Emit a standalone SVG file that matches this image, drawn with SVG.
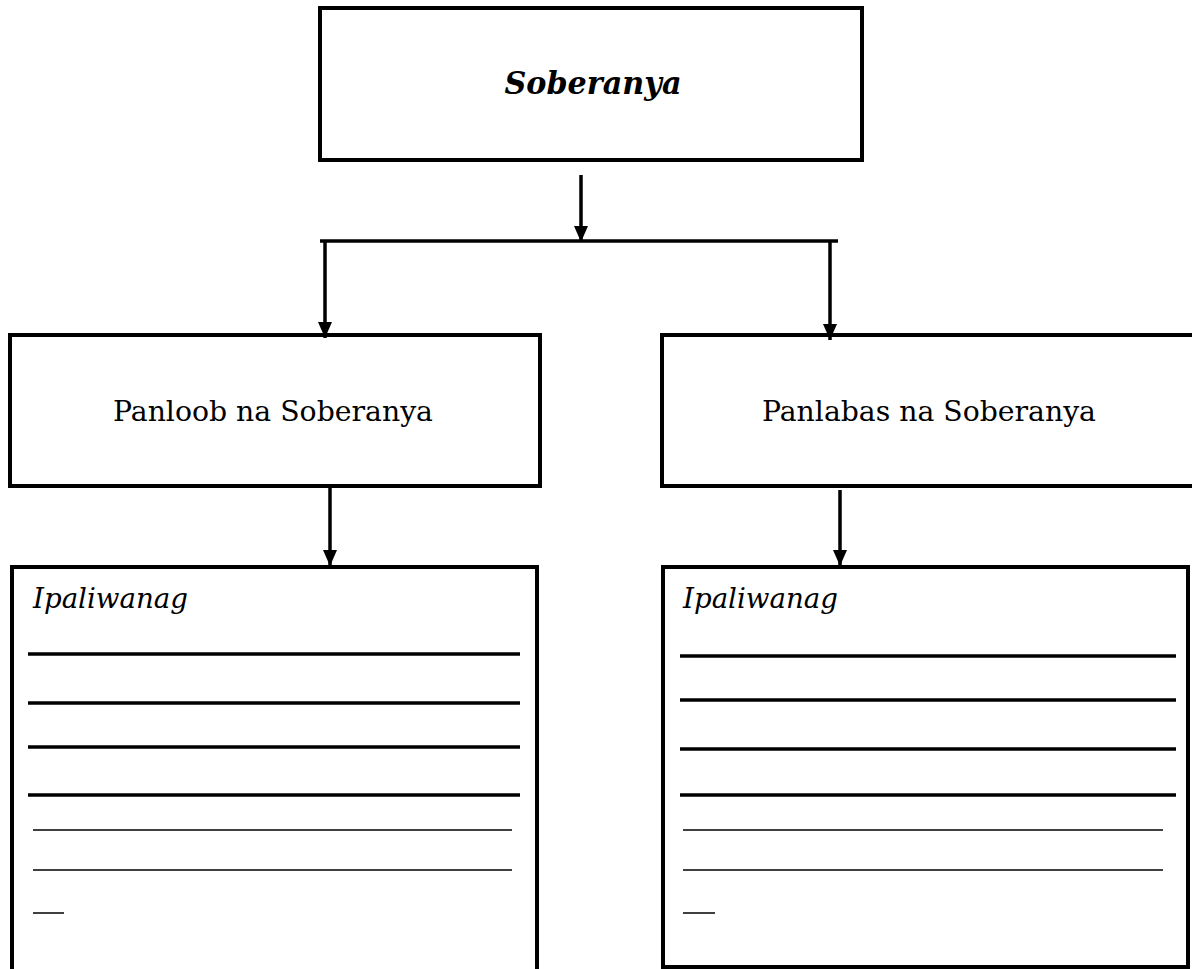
<svg xmlns="http://www.w3.org/2000/svg" width="1192" height="969" viewBox="0 0 1192 969">
<style>
.box{fill:#fff;stroke:#000;stroke-width:4}
.con{stroke:#000;stroke-width:3.5;fill:none}
.t{font-family:"DejaVu Serif","Liberation Serif",serif;fill:#000}
.thick{stroke:#000;stroke-width:3.5}
.thin{stroke:#000;stroke-width:1.5}
</style>
<defs>
<marker id="ah" markerUnits="userSpaceOnUse" markerWidth="16" markerHeight="14" viewBox="0 0 16 14" refX="16" refY="7" orient="auto">
<path d="M0,0 L16,7 L0,14 Z" fill="#000"/>
</marker>
</defs>
<g id="node-soberanya">
<rect class="box" x="320" y="8" width="542" height="152"/>
<text class="t" x="593" y="94" text-anchor="middle" font-size="31" font-weight="bold" font-style="italic" textLength="177" lengthAdjust="spacingAndGlyphs">Soberanya</text>
</g>
<g id="node-panloob">
<rect class="box" x="10" y="335" width="530" height="151"/>
<text class="t" x="273" y="421" text-anchor="middle" font-size="28" textLength="320" lengthAdjust="spacingAndGlyphs">Panloob na Soberanya</text>
</g>
<g id="node-panlabas">
<rect class="box" x="662" y="335" width="536" height="151"/>
<text class="t" x="929" y="421" text-anchor="middle" font-size="28" textLength="334" lengthAdjust="spacingAndGlyphs">Panlabas na Soberanya</text>
</g>
<g id="node-ipaliwanag-left">
<rect class="box" x="12" y="567" width="525" height="410"/>
<text class="t" x="33" y="608" font-size="27" font-style="italic" textLength="155" lengthAdjust="spacingAndGlyphs">Ipaliwanag</text>
<line class="thick" x1="28" y1="654" x2="520" y2="654"/>
<line class="thick" x1="28" y1="703" x2="520" y2="703"/>
<line class="thick" x1="28" y1="747" x2="520" y2="747"/>
<line class="thick" x1="28" y1="795" x2="520" y2="795"/>
<line class="thin" x1="33" y1="830" x2="512" y2="830"/>
<line class="thin" x1="33" y1="870" x2="512" y2="870"/>
<line class="thin" x1="33" y1="913" x2="64" y2="913"/>
</g>
<g id="node-ipaliwanag-right">
<rect x="663" y="567" width="525" height="400" fill="#fff" stroke="#000" stroke-width="4"/>
<text class="t" x="683" y="608" font-size="27" font-style="italic" textLength="155" lengthAdjust="spacingAndGlyphs">Ipaliwanag</text>
<line class="thick" x1="680" y1="656" x2="1176" y2="656"/>
<line class="thick" x1="680" y1="700" x2="1176" y2="700"/>
<line class="thick" x1="680" y1="749" x2="1176" y2="749"/>
<line class="thick" x1="680" y1="795" x2="1176" y2="795"/>
<line class="thin" x1="683" y1="830" x2="1163" y2="830"/>
<line class="thin" x1="683" y1="870" x2="1163" y2="870"/>
<line class="thin" x1="683" y1="913" x2="715" y2="913"/>
</g>
<g id="connectors">
<line class="con" x1="581" y1="175" x2="581" y2="242" marker-end="url(#ah)"/>
<line class="con" x1="320" y1="241" x2="838" y2="241"/>
<line class="con" x1="325" y1="241" x2="325" y2="338" marker-end="url(#ah)"/>
<line class="con" x1="830" y1="241" x2="830" y2="340" marker-end="url(#ah)"/>
<line class="con" x1="330" y1="488" x2="330" y2="566" marker-end="url(#ah)"/>
<line class="con" x1="840" y1="490" x2="840" y2="566" marker-end="url(#ah)"/>
</g>
</svg>
